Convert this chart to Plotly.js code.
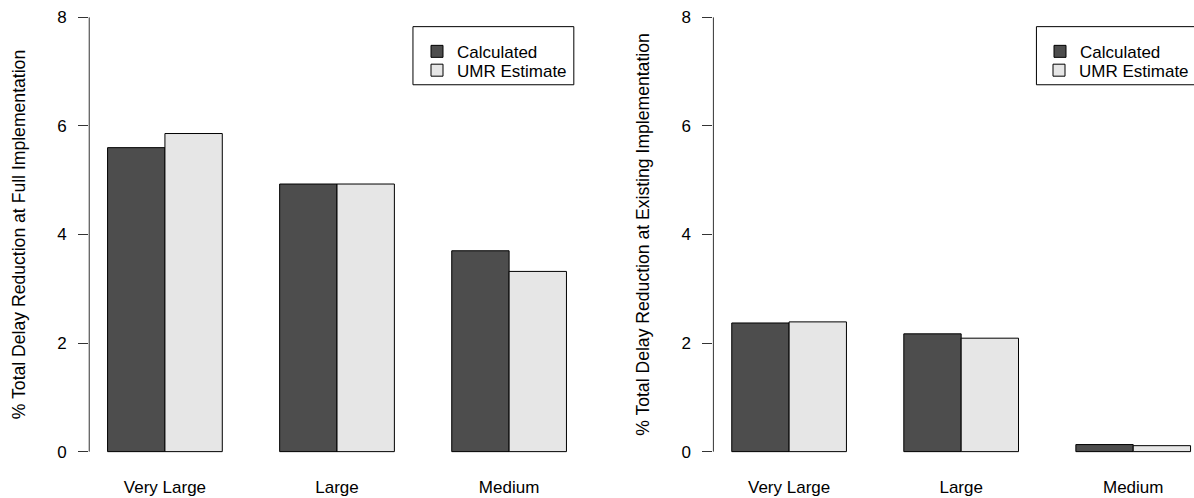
<!DOCTYPE html>
<html>
<head>
<meta charset="utf-8">
<script src="https://cdn.plot.ly/plotly-3.0.1.min.js"></script>
<style>
  html, body { margin: 0; padding: 0; background: #ffffff; }
  #chart { width: 1194px; height: 498px; }
</style>
</head>
<body>
<div id="chart"></div>
<script>
// ---- data ----
const categories = ["Very Large", "Large", "Medium"];
const seriesNames = ["Calculated", "UMR Estimate"];
const fullCalculated = [5.60, 4.93, 3.70];
const fullUMR = [5.86, 4.93, 3.32];
const existingCalculated = [2.37, 2.17, 0.13];
const existingUMR = [2.39, 2.09, 0.11];
const yTickValues = [0, 2, 4, 6, 8];
const yTickLabels = ["0", "2", "4", "6", "8"];
const leftTitle = "% Total Delay Reduction at Full Implementation";
const rightTitle = "% Total Delay Reduction at Existing Implementation";

// ---- styles ----
const FONT = "Liberation Sans, Arial, Helvetica, sans-serif";
const DARK = "#4d4d4d";
const LIGHT = "#e6e6e6";
const AXIS = "#333333";
const W = 1194, H = 498;

function barTrace(name, values, color, xa, ya, legend) {
  return {
    type: "bar",
    name: name,
    x: categories,
    y: values,
    xaxis: xa,
    yaxis: ya,
    legend: legend,
    marker: { color: color, line: { color: "#000000", width: 1 } },
    hoverinfo: "x+y+name"
  };
}

const data = [
  barTrace(seriesNames[0], fullCalculated, DARK, "x", "y", "legend"),
  barTrace(seriesNames[1], fullUMR, LIGHT, "x", "y", "legend2"),
  barTrace(seriesNames[0], existingCalculated, DARK, "x2", "y2", "legend3"),
  barTrace(seriesNames[1], existingUMR, LIGHT, "x2", "y2", "legend4")
];

function xAxis(domain, range) {
  return {
    domain: domain,
    type: "category",
    range: range,
    showline: false,
    showgrid: false,
    zeroline: false,
    ticks: "",
    ticklabelstandoff: 6,
    tickfont: { family: FONT, size: 17, color: "#000000" },
    fixedrange: true
  };
}
function yAxis(anchor, title) {
  return {
    anchor: anchor,
    domain: [0, 1],
    range: [-0.32, 8.32],
    showline: false,
    showgrid: false,
    zeroline: false,
    ticks: "outside",
    ticklen: 10,
    tickwidth: 1,
    tickcolor: AXIS,
    tickvals: yTickValues,
    ticktext: yTickLabels,
    ticklabelstandoff: 8,
    tickfont: { family: FONT, size: 17, color: "#000000" },
    title: { text: title, font: { family: FONT, size: 17.6, color: "#000000" }, standoff: 27 },
    fixedrange: true
  };
}

function legendAt(xPx, yPx) {
  return {
    font: { family: FONT, size: 17, color: "#000000" },
    bgcolor: "rgba(0,0,0,0)",
    borderwidth: 0,
    xanchor: "left",
    yanchor: "middle",
    x: xPx / W,
    y: 1 - yPx / H
  };
}

function boxShape(x0, x1, y0, y1) {
  return {
    type: "rect", xref: "paper", yref: "paper", layer: "above",
    x0: x0 / W, x1: x1 / W, y0: 1 - y0 / H, y1: 1 - y1 / H,
    line: { color: "#000000", width: 1 }, fillcolor: "rgba(0,0,0,0)"
  };
}

const layout = {
  width: W,
  height: H,
  margin: { l: 0, r: 0, t: 0, b: 28.6, pad: 0 },
  paper_bgcolor: "#ffffff",
  plot_bgcolor: "#ffffff",
  barmode: "group",
  bargap: 1 / 3,
  bargroupgap: 0,
  xaxis: xAxis([89.3 / W, 585.3 / W], [-0.44, 2.44]),
  yaxis: yAxis("x", leftTitle),
  xaxis2: xAxis([714 / W, 1], [-0.44, 2.3475]),
  yaxis2: yAxis("x2", rightTitle),
  legend: legendAt(417, 55),
  legend2: legendAt(417, 75),
  legend3: legendAt(1040, 55),
  legend4: legendAt(1040, 75),
  shapes: [
    { type: "line", xref: "x domain", yref: "y", x0: 0, x1: 0, y0: 0, y1: 8,
      line: { color: AXIS, width: 1 } },
    { type: "line", xref: "x2 domain", yref: "y2", x0: 0, x1: 0, y0: 0, y1: 8,
      line: { color: AXIS, width: 1 } },
    boxShape(413.3, 574.3, 28.3, 90),
    boxShape(1037.3, 1198, 28.3, 90)
  ],
  showlegend: true
};

Plotly.newPlot("chart", data, layout, { displayModeBar: false, staticPlot: true });
</script>
</body>
</html>
